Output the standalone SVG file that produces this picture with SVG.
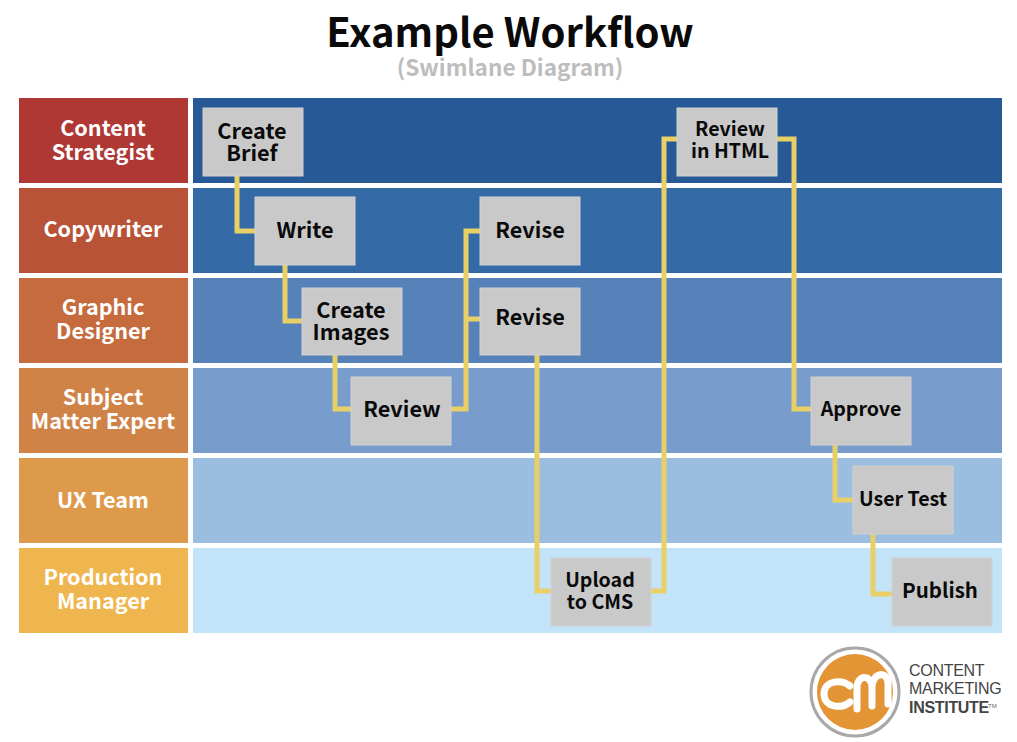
<svg xmlns="http://www.w3.org/2000/svg" width="1017" height="742" viewBox="0 0 1017 742">
<style>
text{font-family:"Noto Sans CJK SC","Noto Sans","Liberation Sans",sans-serif;font-weight:700;text-anchor:middle}
.l{font-size:21.6px;fill:#fff}
.n{font-size:21.7px;fill:#0a0a0a}
.s{font-size:19.6px;fill:#0a0a0a}
.b{fill:#c9c9c9;stroke:#d2d2d2;stroke-width:1}
.c{fill:none;stroke:#e8cf66;stroke-width:5}
.lg{font-family:"Liberation Sans",sans-serif;font-size:16px;fill:#444;text-anchor:start;font-weight:400;letter-spacing:-.3px}
</style>
<rect width="1017" height="742" fill="#fff"/>
<text x="510" y="47" font-size="40" fill="#0a0a0a">Example Workflow</text>
<text x="510" y="76" font-size="22.6" fill="#bdbdbd">(Swimlane Diagram)</text>
<g id="lanes">
<rect x="193" y="98" width="809" height="85" fill="#285997"/>
<rect x="193" y="188" width="809" height="85" fill="#346ba6"/>
<rect x="193" y="278" width="809" height="85" fill="#5681b9"/>
<rect x="193" y="368" width="809" height="85" fill="#789dcc"/>
<rect x="193" y="458" width="809" height="85" fill="#9abde0"/>
<rect x="193" y="548" width="809" height="85" fill="#c3e3f9"/>
</g>
<g id="lane-content-strategist"><rect x="19" y="98" width="169" height="85" fill="#af3734"/><text class="l"><tspan x="103" y="135.500">Content</tspan><tspan x="103" y="159.500">Strategist</tspan></text></g>
<g id="lane-copywriter"><rect x="19" y="188" width="169" height="85" fill="#b95337"/><text class="l" x="103" y="236.500">Copywriter</text></g>
<g id="lane-graphic-designer"><rect x="19" y="278" width="169" height="85" fill="#c56b3e"/><text class="l"><tspan x="103" y="315">Graphic</tspan><tspan x="103" y="339">Designer</tspan></text></g>
<g id="lane-sme"><rect x="19" y="368" width="169" height="85" fill="#d08347"/><text class="l"><tspan x="103" y="404.500">Subject</tspan><tspan x="103" y="428.500">Matter Expert</tspan></text></g>
<g id="lane-ux"><rect x="19" y="458" width="169" height="85" fill="#de9a4b"/><text class="l" x="103" y="508">UX Team</text></g>
<g id="lane-production"><rect x="19" y="548" width="169" height="85" fill="#efb64f"/><text class="l"><tspan x="103" y="585">Production</tspan><tspan x="103" y="609">Manager</tspan></text></g>
<g id="connectors">
<path class="c" d="M237 175V231H255"/>
<path class="c" d="M285 264V321H302"/>
<path class="c" d="M335 355V409H351"/>
<path class="c" d="M451 409H466V231H480"/>
<path class="c" d="M466 319H480"/>
<path class="c" d="M537 355V591H551"/>
<path class="c" d="M651 591H664V139H677"/>
<path class="c" d="M777 139H794V409H811"/>
<path class="c" d="M835 444V500H853"/>
<path class="c" d="M873 533V594H892"/>
</g>
<g id="node-create-brief"><rect class="b" x="203" y="108" width="100" height="68"/><text class="n"><tspan x="252" y="139">Create</tspan><tspan x="252" y="161">Brief</tspan></text></g>
<g id="node-write"><rect class="b" x="255" y="197" width="100" height="68"/><text class="n" x="305" y="238">Write</text></g>
<g id="node-create-images"><rect class="b" x="302" y="288" width="100" height="67"/><text class="n"><tspan x="351" y="318">Create</tspan><tspan x="351" y="340">Images</tspan></text></g>
<g id="node-review"><rect class="b" x="351" y="377" width="100" height="68"/><text class="n" x="402" y="417">Review</text></g>
<g id="node-revise-1"><rect class="b" x="480" y="197" width="100" height="68"/><text class="n" x="530" y="238">Revise</text></g>
<g id="node-revise-2"><rect class="b" x="480" y="288" width="100" height="67"/><text class="n" x="530" y="325">Revise</text></g>
<g id="node-upload"><rect class="b" x="551" y="558" width="100" height="68"/><text class="s"><tspan x="600" y="587">Upload</tspan><tspan x="600" y="608.500">to CMS</tspan></text></g>
<g id="node-review-html"><rect class="b" x="677" y="108" width="100" height="68"/><text class="s"><tspan x="730" y="136">Review</tspan><tspan x="730" y="158">in HTML</tspan></text></g>
<g id="node-approve"><rect class="b" x="811" y="377" width="100" height="68"/><text class="s" x="861" y="416">Approve</text></g>
<g id="node-user-test"><rect class="b" x="853" y="466" width="100" height="68"/><text class="s" x="903" y="505.500">User Test</text></g>
<g id="node-publish"><rect class="b" x="892" y="558" width="100" height="68"/><text class="n" style="font-size:20.5px" x="940" y="597.500">Publish</text></g>
<g id="logo">
<circle cx="855" cy="692" r="44" fill="#fff" stroke="#a8a8a8" stroke-width="3"/>
<circle cx="855" cy="692" r="38" fill="#e39435"/>
<path d="M850 686C842 679 824 680 824 694C824 708 842 709 850 702" fill="none" stroke="#fff" stroke-width="7" stroke-linecap="round"/>
<path d="M857 709V688C857 674 872 674 872 688V706M872 688C872 672 888 670 888 684V704" fill="none" stroke="#fff" stroke-width="7" stroke-linecap="round"/>
<text class="lg" x="909" y="676">CONTENT</text>
<text class="lg" x="909" y="694">MARKETING</text>
<text class="lg" x="909" y="713" style="font-weight:700">INSTITUTE</text>
<text x="988" y="708" style="font-family:'Liberation Sans',sans-serif;font-size:6px;fill:#666;text-anchor:start;font-weight:400">TM</text>
</g>
</svg>
